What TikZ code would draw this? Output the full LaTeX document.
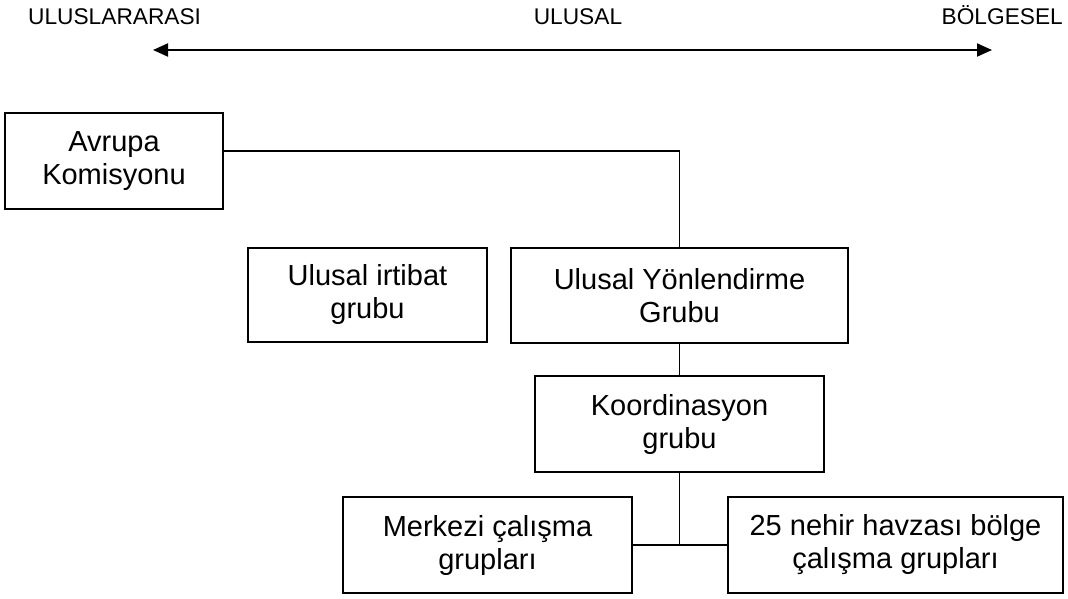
\documentclass[tikz,border=0pt]{standalone}
\usepackage{fontspec}
\setmainfont{Liberation Sans}
\usetikzlibrary{arrows.meta}
\begin{document}
\begin{tikzpicture}[x=1pt,y=-1pt,
  box/.style={draw=black,line width=1.6pt,rectangle,inner sep=0pt,align=center,
    font=\fontsize{29}{33}\selectfont},
  conn/.style={draw=black,line width=1.6pt},
  scalelabel/.style={inner sep=0pt,font=\fontsize{22.7}{26}\selectfont},
  scalearrow/.style={line width=2pt,{Triangle[length=15pt,width=13pt]}-{Triangle[length=15pt,width=13pt]}}]
\useasboundingbox (0,0) rectangle (1068,599);
% scale labels
\node[scalelabel,anchor=base west] (intl) at (28,25) {ULUSLARARASI};
\node[scalelabel,anchor=base] (natl) at (578,25) {ULUSAL};
\node[scalelabel,anchor=base east] (regl) at (1063,25) {BÖLGESEL};
\coordinate (arrL) at (153,50);
\coordinate (arrR) at (992,50);
\draw[scalearrow] (arrL) -- (arrR);
% boxes
\node[box,minimum width=218pt,minimum height=96pt] (avrupa) at (114,161) {Avrupa\\Komisyonu};
\node[box,minimum width=239pt,minimum height=94pt] (irtibat) at (367.5,295) {Ulusal irtibat\\grubu};
\node[box,minimum width=337pt,minimum height=95pt] (yon) at (679.5,295.5) {Ulusal Yönlendirme\\Grubu};
\node[box,minimum width=289pt,minimum height=96pt] (koord) at (679.5,424) {Koordinasyon\\grubu};
\node[box,minimum width=289pt,minimum height=96pt] (merkezi) at (487.5,545) {Merkezi çalışma\\grupları};
\node[box,minimum width=335pt,minimum height=96pt] (nehir) at (895.5,545) {25 nehir havzası bölge\\çalışma grupları};
% connectors
\coordinate (lvl) at (0,151);
\draw[conn] (avrupa.east |- lvl) -| (yon.north);
\draw[conn] (yon.south) -- (koord.north);
\draw[conn] (koord.south) -- (koord.south |- merkezi.east);
\draw[conn] (merkezi.east) -- (nehir.west);
\end{tikzpicture}
\end{document}
